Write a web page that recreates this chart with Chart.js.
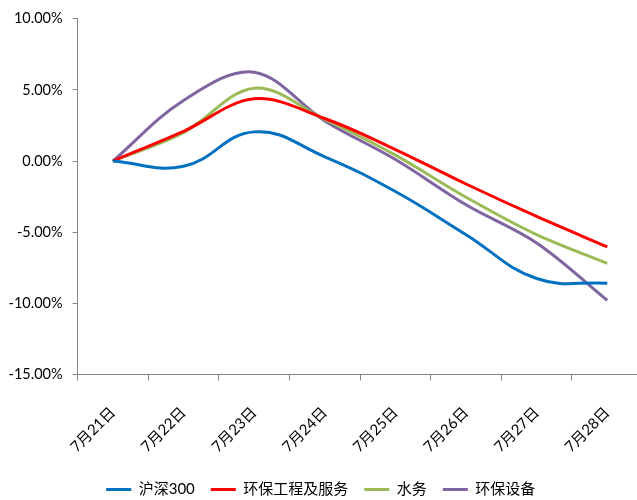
<!DOCTYPE html>
<html>
<head>
<meta charset="utf-8">
<script src="https://cdn.jsdelivr.net/npm/chart.js@4"></script>
<style>
  html, body { margin: 0; padding: 0; background: #ffffff; overflow: hidden; }
  #wrap { position: relative; width: 643px; height: 500px; }
</style>
</head>
<body>
<div id="wrap"><canvas id="c"></canvas></div>
<script>
// Trading days
const categories = ['7月21日', '7月22日', '7月23日', '7月24日', '7月25日', '7月26日', '7月27日', '7月28日'];

// Cumulative returns, in percent
const hs300 = [0, -0.37, 2.05, 0.30, -2.14, -5.17, -8.25, -8.59];
const envEngineering = [0, 2.09, 4.37, 2.99, 0.81, -1.61, -3.89, -6.03];
const waterUtilities = [0, 2.00, 5.12, 2.92, 0.42, -2.54, -5.17, -7.19];
const envEquipment = [0, 4.26, 6.24, 2.82, 0.11, -3.07, -5.75, -9.78];

// Value axis ticks, in percent
const yTicks = [-15, -10, -5, 0, 5, 10];

const seriesNames = ['沪深300', '环保工程及服务', '水务', '环保设备'];
const seriesColors = ['#0070C0', '#FF0000', '#9BBB59', '#8064A2'];
const seriesData = [hs300, envEngineering, waterUtilities, envEquipment];

const fontFamily = "Lato, 'Noto Sans CJK SC', sans-serif";
const axisColor = '#868686';

const chart = new Chart(document.getElementById('c'), {
  type: 'line',
  data: {
    labels: categories,
    datasets: seriesData.map((d, i) => ({
      label: seriesNames[i],
      data: d,
      borderColor: seriesColors[i],
      backgroundColor: seriesColors[i],
      borderWidth: 3,
      pointRadius: 0,
      pointHoverRadius: 0,
      tension: i === 0 ? 0.42 : 0.35,
      fill: false
    }))
  },
  options: {
    responsive: true,
    maintainAspectRatio: false,
    animation: false,
    layout: { padding: { left: -1.5, top: 2, right: 0, bottom: -7 } },
    plugins: {
      tooltip: { enabled: false },
      legend: {
        position: 'bottom',
        labels: {
          font: { family: fontFamily, size: 15 },
          color: '#000000',
          boxWidth: 25,
          boxHeight: 3,
          padding: 16,
          generateLabels: (ch) => Chart.defaults.plugins.legend.labels.generateLabels(ch)
            .map(l => ({ ...l, fillStyle: l.strokeStyle, lineWidth: 0 }))
        }
      }
    },
    scales: {
      x: {
        offset: true,
        afterFit: (axis) => { axis.height -= 13; },
        grid: { display: true, drawOnChartArea: false, drawTicks: true, tickLength: 6, offset: true, color: axisColor },
        border: { display: true, color: axisColor, width: 1 },
        ticks: {
          font: { family: fontFamily, size: 15 },
          color: '#000000',
          maxRotation: 45,
          minRotation: 45,
          autoSkip: false,
          padding: 23
        }
      },
      y: {
        min: yTicks[0],
        max: yTicks[yTicks.length - 1],
        afterBuildTicks: (axis) => { axis.ticks = yTicks.map(v => ({ value: v })); },
        grid: { display: true, drawOnChartArea: false, drawTicks: true, tickLength: 5, color: axisColor },
        border: { display: true, color: axisColor, width: 1 },
        ticks: {
          font: { family: fontFamily, size: 14.5 },
          color: '#000000',
          padding: 10,
          callback: (v) => Number(v).toFixed(2) + '%'
        }
      }
    }
  }
});
</script>
</body>
</html>
